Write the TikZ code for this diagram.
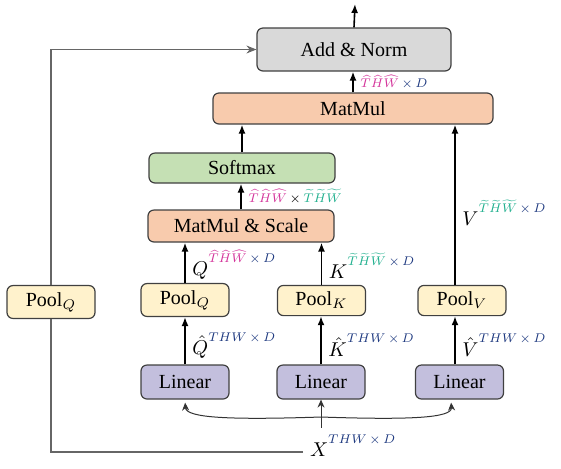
\documentclass[tikz,border=0pt]{standalone}
\usepackage{amsmath}
\usepackage{graphicx}
\usepackage{fontspec}
\setmainfont{Liberation Serif}
\usetikzlibrary{arrows.meta}

\definecolor{normgray}{HTML}{D9D9D9}
\definecolor{mulpeach}{HTML}{F8CBAD}
\definecolor{softgreen}{HTML}{C5E0B4}
\definecolor{linpurple}{HTML}{C3BFDD}
\definecolor{poolyellow}{HTML}{FFF2CC}
\definecolor{hatpink}{HTML}{D4359B}
\definecolor{tiltal}{HTML}{22B08F}
\definecolor{dimblue}{HTML}{1F3A80}

\newcommand{\hatTHW}{\textcolor{hatpink}{\widehat{T}\widehat{H}\widehat{W}}}
\newcommand{\tilTHW}{\textcolor{tiltal}{\widetilde{T}\widetilde{H}\widetilde{W}}}
\newcommand{\byD}{\textcolor{dimblue}{\,\times\, D}}
\newcommand{\plainTHW}{\textcolor{dimblue}{THW\,\times\, D}}
% small shape text, and a letter with a raised one
\newcommand{\dimtext}[1]{\scalebox{0.9}{$\scriptstyle #1$}}
\newcommand{\sizelbl}[2]{$#1^{\raisebox{3pt}{\dimtext{#2}}}$}

\begin{document}
\begin{tikzpicture}[
		x=0.5pt, y=-0.5pt,
		blocknode/.style={
		% The shape:
		rectangle,
		rounded corners=3pt,
		% The size:
		minimum width=44pt,
		minimum height=15pt,
		% The border:
		draw=black!75,
		line width=0.6pt,
		% Font
		font=\fontsize{10}{12}\selectfont
		},
		poolnode/.style={blocknode, fill=poolyellow},
		linearnode/.style={blocknode, fill=linpurple, minimum height=17pt},
		mainarrow/.style={-{Latex[length=4.5pt,width=3.5pt]}, line width=0.8pt},
		splitarrow/.style={-{Stealth[length=4pt,width=3.5pt]}, line width=0.5pt, black!80},
		skipline/.style={line width=0.6pt, black!60}
	]
	\useasboundingbox (0,0) rectangle (561,468);

	\node (addnorm)[blocknode, fill=normgray, minimum width=97pt, minimum height=21.5pt] at (354,49.5) {Add \& Norm};
	\node (matmul)[blocknode, fill=mulpeach, minimum width=140pt, minimum height=15.5pt] at (353,108.5) {MatMul};
	\node (softmax)[blocknode, fill=softgreen, minimum width=93pt] at (242,168) {Softmax};
	\node (scale)[blocknode, fill=mulpeach, minimum width=93pt, minimum height=16pt] at (241,226) {MatMul \& Scale};

	\node (poolx)[poolnode] at (51,302) {Pool$_Q$};
	\node (poolq)[poolnode] at (185,300) {Pool$_Q$};
	\node (poolk)[poolnode] at (321.5,300.5) {Pool$_K$};
	\node (poolv)[poolnode] at (462,300.5) {Pool$_V$};

	\node (linq)[linearnode] at (185,382) {Linear};
	\node (link)[linearnode] at (321,382) {Linear};
	\node (linv)[linearnode] at (459.5,382) {Linear};

	\node (X)[anchor=mid west] at (303,452) {\sizelbl{X}{\plainTHW}};
	\coordinate (out) at (355,4);
	\coordinate (split) at (321,417);

	% output and attention path
	\draw [mainarrow] (addnorm.north) -- (out);
	\draw [mainarrow] (matmul.north) -- node[anchor=west] {\dimtext{\hatTHW\byD}} (matmul.north |- addnorm.south);
	\draw [mainarrow] (softmax.north) -- (softmax.north |- matmul.south);
	\draw [mainarrow] (scale.north) -- node[anchor=west] {\dimtext{\hatTHW\,\times\,\tilTHW}} (scale.north |- softmax.south);
	\draw [mainarrow] (poolq.north) -- node[anchor=west, pos=0.45] {\sizelbl{Q}{\hatTHW\byD}} (poolq.north |- scale.south);
	\draw [mainarrow] (poolk.north) -- node[anchor=west, pos=0.45] {\sizelbl{K}{\tilTHW\byD}} (poolk.north |- scale.south);
	\draw [mainarrow] ([xshift=-3.5pt]poolv.north) -- node[anchor=west, pos=0.45] {\sizelbl{V}{\tilTHW\byD}} ([xshift=-3.5pt]poolv.north |- matmul.south);

	% linear to pooling
	\draw [mainarrow] (linq.north) -- node[anchor=west, pos=0.4] {\sizelbl{\hat{Q}}{\plainTHW}} (poolq.south);
	\draw [mainarrow] (link.north) -- node[anchor=west, pos=0.4] {\sizelbl{\hat{K}}{\plainTHW}} (link.north |- poolk.south);
	\draw [mainarrow] ([xshift=-2.25pt]linv.north) -- node[anchor=west, pos=0.4] {\sizelbl{\hat{V}}{\plainTHW}} ([xshift=-2.25pt]linv.north |- poolv.south);

	% input split
	\draw [splitarrow] (link.south |- X.north) -- (link.south);
	\draw [splitarrow, shorten >=1.5pt] (split) .. controls (230,420) and (186,418) .. (linq.south);
	\draw [splitarrow, shorten >=1.5pt] (split) .. controls (410,420) and (452,418) .. ([xshift=-4.25pt]linv.south);

	% skip connection
	\draw [skipline] (X.mid west) -| (poolx.south);
	\draw [skipline, -{Stealth[length=5pt,width=4pt]}] (poolx.north) |- (addnorm.west);
\end{tikzpicture}
\end{document}
